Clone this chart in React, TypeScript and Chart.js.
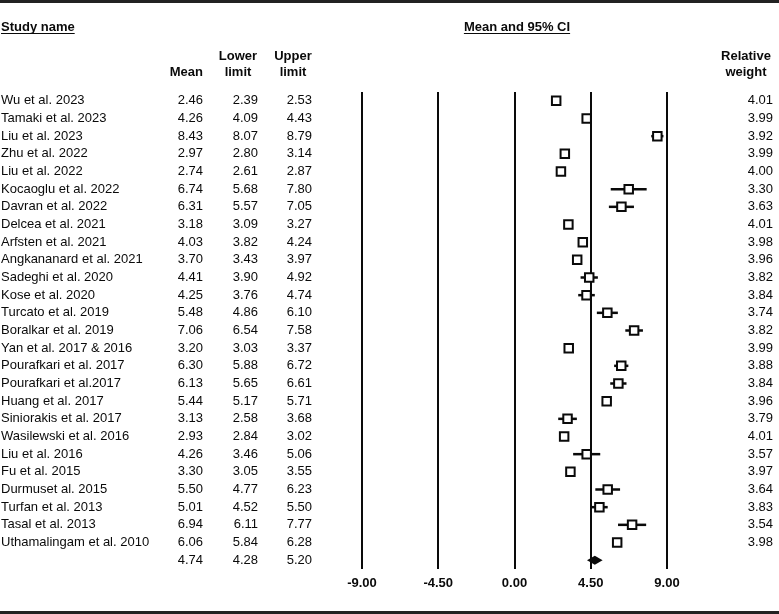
import React, { useEffect, useRef } from "react";
import { Chart, registerables } from "chart.js";

Chart.register(...registerables);

const studies = [
  "Wu et al. 2023",
  "Tamaki et al. 2023",
  "Liu et al. 2023",
  "Zhu et al. 2022",
  "Liu et al. 2022",
  "Kocaoglu et al. 2022",
  "Davran et al. 2022",
  "Delcea et al. 2021",
  "Arfsten et al. 2021",
  "Angkananard et al. 2021",
  "Sadeghi et al. 2020",
  "Kose et al. 2020",
  "Turcato et al. 2019",
  "Boralkar et al. 2019",
  "Yan et al. 2017 & 2016",
  "Pourafkari et al. 2017",
  "Pourafkari et al.2017",
  "Huang et al. 2017",
  "Siniorakis et al. 2017",
  "Wasilewski et al. 2016",
  "Liu et al. 2016",
  "Fu et al. 2015",
  "Durmuset al. 2015",
  "Turfan et al. 2013",
  "Tasal et al. 2013",
  "Uthamalingam et al. 2010",
];
const means = [2.46, 4.26, 8.43, 2.97, 2.74, 6.74, 6.31, 3.18, 4.03, 3.7, 4.41, 4.25, 5.48, 7.06, 3.2, 6.3, 6.13, 5.44, 3.13, 2.93, 4.26, 3.3, 5.5, 5.01, 6.94, 6.06];
const lowers = [2.39, 4.09, 8.07, 2.8, 2.61, 5.68, 5.57, 3.09, 3.82, 3.43, 3.9, 3.76, 4.86, 6.54, 3.03, 5.88, 5.65, 5.17, 2.58, 2.84, 3.46, 3.05, 4.77, 4.52, 6.11, 5.84];
const uppers = [2.53, 4.43, 8.79, 3.14, 2.87, 7.8, 7.05, 3.27, 4.24, 3.97, 4.92, 4.74, 6.1, 7.58, 3.37, 6.72, 6.61, 5.71, 3.68, 3.02, 5.06, 3.55, 6.23, 5.5, 7.77, 6.28];
const weights = [4.01, 3.99, 3.92, 3.99, 4.0, 3.3, 3.63, 4.01, 3.98, 3.96, 3.82, 3.84, 3.74, 3.82, 3.99, 3.88, 3.84, 3.96, 3.79, 4.01, 3.57, 3.97, 3.64, 3.83, 3.54, 3.98];
const summaryMean = 4.74;
const summaryLower = 4.28;
const summaryUpper = 5.2;
const xTicks = [-9, -4.5, 0, 4.5, 9];

const FONT = "'Liberation Sans', Arial, sans-serif";
const INK = "#0a0a0a";

const forestPlugin = {
  id: "forest",
  beforeDatasetsDraw(chart: any) {
    const { ctx } = chart;
    const xs = chart.scales.x;
    const ys = chart.scales.y;
    ctx.save();
    ctx.strokeStyle = INK;
    ctx.lineWidth = 2.5;
    for (let i = 0; i < means.length; i++) {
      const y = ys.getPixelForValue(i);
      ctx.beginPath();
      ctx.moveTo(xs.getPixelForValue(lowers[i]), y);
      ctx.lineTo(xs.getPixelForValue(uppers[i]), y);
      ctx.stroke();
    }
    ctx.restore();
  },
  afterDatasetsDraw(chart: any) {
    const { ctx } = chart;
    const xs = chart.scales.x;
    const ys = chart.scales.y;
    const y = ys.getPixelForValue(means.length);
    ctx.save();
    ctx.fillStyle = INK;
    ctx.beginPath();
    ctx.moveTo(xs.getPixelForValue(summaryLower), y);
    ctx.lineTo(xs.getPixelForValue(summaryMean), y - 4.5);
    ctx.lineTo(xs.getPixelForValue(summaryUpper), y);
    ctx.lineTo(xs.getPixelForValue(summaryMean), y + 4.5);
    ctx.closePath();
    ctx.fill();
    ctx.restore();
  },
  afterDraw(chart: any) {
    const { ctx } = chart;
    const ys = chart.scales.y;
    const W = chart.width;
    const H = chart.height;
    ctx.save();
    // frame bands
    ctx.fillStyle = "#222";
    ctx.fillRect(0, 0, W, 3);
    ctx.fillRect(0, H - 3, W, 3);

    ctx.fillStyle = INK;
    ctx.textBaseline = "middle";
    // headers
    ctx.font = `bold 13px ${FONT}`;
    ctx.textAlign = "left";
    ctx.fillText("Study name", 1, 27);
    let w = ctx.measureText("Study name").width;
    ctx.fillRect(1, 33, w, 1);
    ctx.textAlign = "center";
    ctx.fillText("Mean and 95% CI", 517, 27);
    w = ctx.measureText("Mean and 95% CI").width;
    ctx.fillRect(517 - w / 2, 33, w, 1);
    ctx.textAlign = "right";
    ctx.fillText("Mean", 203, 72);
    ctx.textAlign = "center";
    ctx.fillText("Lower", 238, 56);
    ctx.fillText("limit", 238, 72);
    ctx.fillText("Upper", 293, 56);
    ctx.fillText("limit", 293, 72);
    ctx.fillText("Relative", 746, 56);
    ctx.fillText("weight", 746, 72);

    // rows
    ctx.font = `13px ${FONT}`;
    const rows = studies.length;
    for (let i = 0; i <= rows; i++) {
      const y = ys.getPixelForValue(i);
      const isSum = i === rows;
      const m = isSum ? summaryMean : means[i];
      const lo = isSum ? summaryLower : lowers[i];
      const up = isSum ? summaryUpper : uppers[i];
      if (!isSum) {
        ctx.textAlign = "left";
        ctx.fillText(studies[i], 1, y);
      }
      ctx.textAlign = "right";
      ctx.fillText(m.toFixed(2), 203, y);
      ctx.fillText(lo.toFixed(2), 258, y);
      ctx.fillText(up.toFixed(2), 312, y);
      if (!isSum) ctx.fillText(weights[i].toFixed(2), 773, y);
    }
    ctx.restore();
  },
};

export default function App() {
  const ref = useRef<HTMLCanvasElement>(null);
  useEffect(() => {
    document.body.style.margin = "0";
    const chart = new Chart(ref.current as HTMLCanvasElement, {
      type: "scatter",
      data: {
        datasets: [
          {
            data: means.map((m, i) => ({ x: m, y: i })),
            pointStyle: "rect",
            pointRadius: 6,
            pointHoverRadius: 6,
            backgroundColor: "#fff",
            borderColor: INK,
            borderWidth: 2,
          },
        ],
      },
      options: {
        animation: false,
        responsive: false,
        layout: { padding: { left: 362, right: 112, top: 92, bottom: 15 } },
        plugins: { legend: { display: false }, tooltip: { enabled: false } },
        scales: {
          x: {
            type: "linear",
            min: -9,
            max: 9,
            afterBuildTicks: (s: any) => {
              s.ticks = xTicks.map((v) => ({ value: v }));
            },
            afterFit: (s: any) => {
              s.height = 30;
            },
            grid: { color: INK, lineWidth: 2, drawTicks: false },
            border: { display: false },
            ticks: {
              font: { family: FONT, size: 13, weight: "bold" },
              color: INK,
              padding: 7,
              maxRotation: 0,
              callback: (v: any) => Number(v).toFixed(2),
            },
          },
          y: { type: "linear", display: false, min: -0.5, max: 26.5, reverse: true },
        },
      },
      plugins: [forestPlugin],
    } as any);
    return () => chart.destroy();
  }, []);
  return <canvas ref={ref} width={779} height={614} style={{ display: "block" }} />;
}
